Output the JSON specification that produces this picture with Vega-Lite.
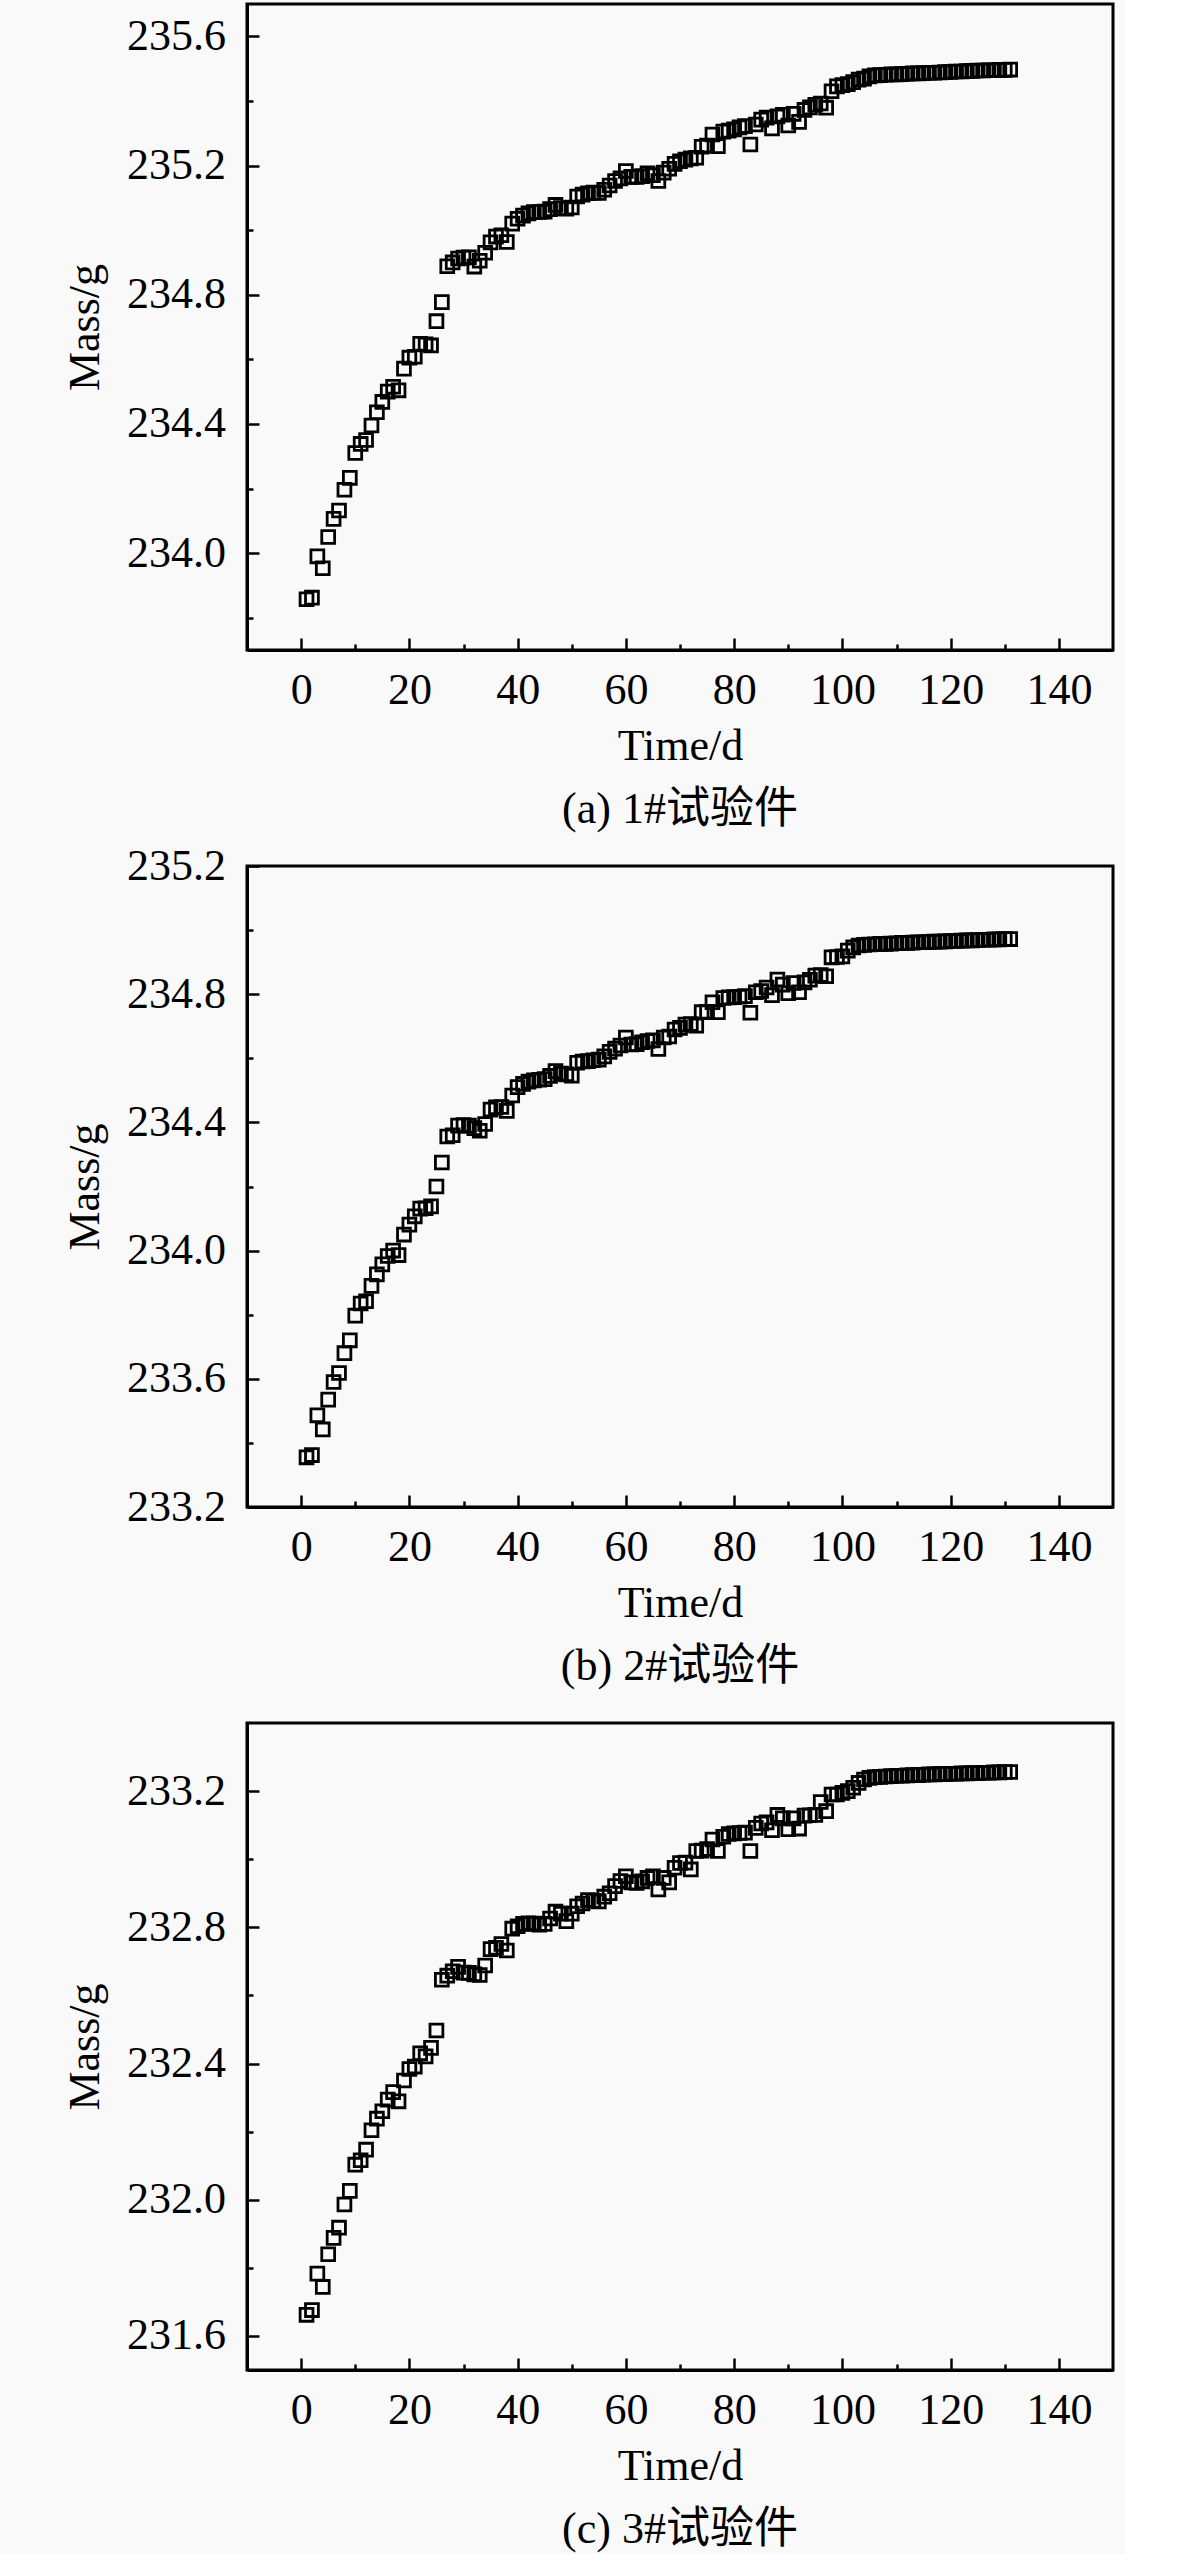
{
  "$schema": "https://vega.github.io/schema/vega-lite/v6.json",
  "background": "#f9f9f9",
  "padding": {"left": 62, "top": 2, "right": 10, "bottom": 5},
  "spacing": 216,
  "bounds": "flush",
  "config": {
    "font": "Liberation Serif",
    "view": {"stroke": "black", "strokeWidth": 3},
    "axis": {
      "grid": false,
      "labelFont": "Liberation Serif",
      "labelFontSize": 44,
      "labelColor": "black",
      "titleFont": "Liberation Serif",
      "titleFontSize": 44,
      "titleFontWeight": "normal",
      "titleColor": "black",
      "domainColor": "black",
      "domainWidth": 3,
      "tickColor": "black",
      "tickWidth": 2.5
    },
    "title": {
      "font": "Liberation Serif, Noto Sans CJK SC",
      "fontSize": 44,
      "fontWeight": "normal",
      "color": "black"
    }
  },
  "datasets": {
    "p1": [
      {"day": 1, "mass": 233.857}, {"day": 2, "mass": 233.862}, {"day": 3, "mass": 233.99}, {"day": 4, "mass": 233.953},
      {"day": 5, "mass": 234.05}, {"day": 6, "mass": 234.106}, {"day": 7, "mass": 234.132}, {"day": 8, "mass": 234.196},
      {"day": 9, "mass": 234.233}, {"day": 10, "mass": 234.31}, {"day": 11, "mass": 234.338}, {"day": 12, "mass": 234.35},
      {"day": 13, "mass": 234.395}, {"day": 14, "mass": 234.436}, {"day": 15, "mass": 234.468}, {"day": 16, "mass": 234.5},
      {"day": 17, "mass": 234.515}, {"day": 18, "mass": 234.504}, {"day": 19, "mass": 234.571}, {"day": 20, "mass": 234.605},
      {"day": 21, "mass": 234.608}, {"day": 22, "mass": 234.648}, {"day": 23, "mass": 234.646}, {"day": 24, "mass": 234.643},
      {"day": 25, "mass": 234.718}, {"day": 26, "mass": 234.777}, {"day": 27, "mass": 234.888}, {"day": 28, "mass": 234.9},
      {"day": 29, "mass": 234.912}, {"day": 30, "mass": 234.915}, {"day": 31, "mass": 234.916}, {"day": 32, "mass": 234.887},
      {"day": 33, "mass": 234.905}, {"day": 34, "mass": 234.93}, {"day": 35, "mass": 234.962}, {"day": 36, "mass": 234.98},
      {"day": 37, "mass": 234.984}, {"day": 38, "mass": 234.963}, {"day": 39, "mass": 235.02}, {"day": 40, "mass": 235.035},
      {"day": 41, "mass": 235.045}, {"day": 42, "mass": 235.052}, {"day": 43, "mass": 235.056}, {"day": 44, "mass": 235.056},
      {"day": 45, "mass": 235.057}, {"day": 46, "mass": 235.065}, {"day": 47, "mass": 235.078}, {"day": 48, "mass": 235.068},
      {"day": 49, "mass": 235.066}, {"day": 50, "mass": 235.07}, {"day": 51, "mass": 235.104}, {"day": 52, "mass": 235.11},
      {"day": 53, "mass": 235.114}, {"day": 54, "mass": 235.116}, {"day": 55, "mass": 235.115}, {"day": 56, "mass": 235.125},
      {"day": 57, "mass": 235.138}, {"day": 58, "mass": 235.152}, {"day": 59, "mass": 235.16}, {"day": 60, "mass": 235.183},
      {"day": 61, "mass": 235.165}, {"day": 62, "mass": 235.165}, {"day": 63, "mass": 235.167}, {"day": 64, "mass": 235.176},
      {"day": 65, "mass": 235.17}, {"day": 66, "mass": 235.152}, {"day": 67, "mass": 235.178}, {"day": 68, "mass": 235.19},
      {"day": 69, "mass": 235.205}, {"day": 70, "mass": 235.213}, {"day": 71, "mass": 235.218}, {"day": 72, "mass": 235.222},
      {"day": 73, "mass": 235.224}, {"day": 74, "mass": 235.258}, {"day": 75, "mass": 235.262}, {"day": 76, "mass": 235.296},
      {"day": 77, "mass": 235.26}, {"day": 78, "mass": 235.305}, {"day": 79, "mass": 235.308}, {"day": 80, "mass": 235.312},
      {"day": 81, "mass": 235.318}, {"day": 82, "mass": 235.322}, {"day": 83, "mass": 235.265}, {"day": 84, "mass": 235.327},
      {"day": 85, "mass": 235.342}, {"day": 86, "mass": 235.348}, {"day": 87, "mass": 235.315}, {"day": 88, "mass": 235.352},
      {"day": 89, "mass": 235.357}, {"day": 90, "mass": 235.324}, {"day": 91, "mass": 235.36}, {"day": 92, "mass": 235.335},
      {"day": 93, "mass": 235.372}, {"day": 94, "mass": 235.38}, {"day": 95, "mass": 235.388}, {"day": 96, "mass": 235.392},
      {"day": 97, "mass": 235.379}, {"day": 98, "mass": 235.43}, {"day": 99, "mass": 235.445}, {"day": 100, "mass": 235.449},
      {"day": 101, "mass": 235.452}, {"day": 102, "mass": 235.458}, {"day": 103, "mass": 235.466}, {"day": 104, "mass": 235.469},
      {"day": 105, "mass": 235.476}, {"day": 106, "mass": 235.479}, {"day": 107, "mass": 235.48}, {"day": 108, "mass": 235.481},
      {"day": 109, "mass": 235.482}, {"day": 110, "mass": 235.482}, {"day": 111, "mass": 235.483}, {"day": 112, "mass": 235.484},
      {"day": 113, "mass": 235.485}, {"day": 114, "mass": 235.485}, {"day": 115, "mass": 235.486}, {"day": 116, "mass": 235.487},
      {"day": 117, "mass": 235.487}, {"day": 118, "mass": 235.488}, {"day": 119, "mass": 235.489}, {"day": 120, "mass": 235.49},
      {"day": 121, "mass": 235.491}, {"day": 122, "mass": 235.491}, {"day": 123, "mass": 235.492}, {"day": 124, "mass": 235.493},
      {"day": 125, "mass": 235.494}, {"day": 126, "mass": 235.494}, {"day": 127, "mass": 235.495}, {"day": 128, "mass": 235.495},
      {"day": 129, "mass": 235.496}, {"day": 130, "mass": 235.496}, {"day": 131, "mass": 235.497}
    ],
    "p2": [
      {"day": 1, "mass": 233.355}, {"day": 2, "mass": 233.362}, {"day": 3, "mass": 233.486}, {"day": 4, "mass": 233.442},
      {"day": 5, "mass": 233.535}, {"day": 6, "mass": 233.59}, {"day": 7, "mass": 233.618}, {"day": 8, "mass": 233.68},
      {"day": 9, "mass": 233.72}, {"day": 10, "mass": 233.797}, {"day": 11, "mass": 233.835}, {"day": 12, "mass": 233.842},
      {"day": 13, "mass": 233.89}, {"day": 14, "mass": 233.926}, {"day": 15, "mass": 233.957}, {"day": 16, "mass": 233.983},
      {"day": 17, "mass": 234.0}, {"day": 18, "mass": 233.986}, {"day": 19, "mass": 234.05}, {"day": 20, "mass": 234.081},
      {"day": 21, "mass": 234.107}, {"day": 22, "mass": 234.131}, {"day": 23, "mass": 234.132}, {"day": 24, "mass": 234.138},
      {"day": 25, "mass": 234.2}, {"day": 26, "mass": 234.275}, {"day": 27, "mass": 234.356}, {"day": 28, "mass": 234.36},
      {"day": 29, "mass": 234.39}, {"day": 30, "mass": 234.392}, {"day": 31, "mass": 234.39}, {"day": 32, "mass": 234.382},
      {"day": 33, "mass": 234.374}, {"day": 34, "mass": 234.395}, {"day": 35, "mass": 234.44}, {"day": 36, "mass": 234.447},
      {"day": 37, "mass": 234.448}, {"day": 38, "mass": 234.436}, {"day": 39, "mass": 234.484}, {"day": 40, "mass": 234.51},
      {"day": 41, "mass": 234.52}, {"day": 42, "mass": 234.527}, {"day": 43, "mass": 234.531}, {"day": 44, "mass": 234.533},
      {"day": 45, "mass": 234.535}, {"day": 46, "mass": 234.545}, {"day": 47, "mass": 234.56}, {"day": 48, "mass": 234.552},
      {"day": 49, "mass": 234.55}, {"day": 50, "mass": 234.546}, {"day": 51, "mass": 234.586}, {"day": 52, "mass": 234.59},
      {"day": 53, "mass": 234.591}, {"day": 54, "mass": 234.594}, {"day": 55, "mass": 234.596}, {"day": 56, "mass": 234.606},
      {"day": 57, "mass": 234.62}, {"day": 58, "mass": 234.63}, {"day": 59, "mass": 234.64}, {"day": 60, "mass": 234.665},
      {"day": 61, "mass": 234.643}, {"day": 62, "mass": 234.644}, {"day": 63, "mass": 234.65}, {"day": 64, "mass": 234.654},
      {"day": 65, "mass": 234.656}, {"day": 66, "mass": 234.629}, {"day": 67, "mass": 234.665}, {"day": 68, "mass": 234.668},
      {"day": 69, "mass": 234.69}, {"day": 70, "mass": 234.695}, {"day": 71, "mass": 234.705}, {"day": 72, "mass": 234.707},
      {"day": 73, "mass": 234.702}, {"day": 74, "mass": 234.744}, {"day": 75, "mass": 234.745}, {"day": 76, "mass": 234.775},
      {"day": 77, "mass": 234.744}, {"day": 78, "mass": 234.788}, {"day": 79, "mass": 234.79}, {"day": 80, "mass": 234.791},
      {"day": 81, "mass": 234.792}, {"day": 82, "mass": 234.794}, {"day": 83, "mass": 234.742}, {"day": 84, "mass": 234.806},
      {"day": 85, "mass": 234.81}, {"day": 86, "mass": 234.821}, {"day": 87, "mass": 234.797}, {"day": 88, "mass": 234.846},
      {"day": 89, "mass": 234.83}, {"day": 90, "mass": 234.803}, {"day": 91, "mass": 234.835}, {"day": 92, "mass": 234.806},
      {"day": 93, "mass": 234.837}, {"day": 94, "mass": 234.845}, {"day": 95, "mass": 234.858}, {"day": 96, "mass": 234.86},
      {"day": 97, "mass": 234.856}, {"day": 98, "mass": 234.915}, {"day": 99, "mass": 234.916}, {"day": 100, "mass": 234.918},
      {"day": 101, "mass": 234.936}, {"day": 102, "mass": 234.946}, {"day": 103, "mass": 234.952}, {"day": 104, "mass": 234.954},
      {"day": 105, "mass": 234.955}, {"day": 106, "mass": 234.956}, {"day": 107, "mass": 234.957}, {"day": 108, "mass": 234.957},
      {"day": 109, "mass": 234.958}, {"day": 110, "mass": 234.959}, {"day": 111, "mass": 234.96}, {"day": 112, "mass": 234.96},
      {"day": 113, "mass": 234.961}, {"day": 114, "mass": 234.962}, {"day": 115, "mass": 234.962}, {"day": 116, "mass": 234.963},
      {"day": 117, "mass": 234.964}, {"day": 118, "mass": 234.964}, {"day": 119, "mass": 234.965}, {"day": 120, "mass": 234.966},
      {"day": 121, "mass": 234.966}, {"day": 122, "mass": 234.967}, {"day": 123, "mass": 234.968}, {"day": 124, "mass": 234.968},
      {"day": 125, "mass": 234.969}, {"day": 126, "mass": 234.97}, {"day": 127, "mass": 234.97}, {"day": 128, "mass": 234.971},
      {"day": 129, "mass": 234.971}, {"day": 130, "mass": 234.972}, {"day": 131, "mass": 234.972}
    ],
    "p3": [
      {"day": 1, "mass": 231.662}, {"day": 2, "mass": 231.676}, {"day": 3, "mass": 231.783}, {"day": 4, "mass": 231.744},
      {"day": 5, "mass": 231.84}, {"day": 6, "mass": 231.888}, {"day": 7, "mass": 231.918}, {"day": 8, "mass": 231.986},
      {"day": 9, "mass": 232.026}, {"day": 10, "mass": 232.103}, {"day": 11, "mass": 232.116}, {"day": 12, "mass": 232.147},
      {"day": 13, "mass": 232.204}, {"day": 14, "mass": 232.238}, {"day": 15, "mass": 232.26}, {"day": 16, "mass": 232.294},
      {"day": 17, "mass": 232.316}, {"day": 18, "mass": 232.289}, {"day": 19, "mass": 232.35}, {"day": 20, "mass": 232.384},
      {"day": 21, "mass": 232.391}, {"day": 22, "mass": 232.43}, {"day": 23, "mass": 232.421}, {"day": 24, "mass": 232.446},
      {"day": 25, "mass": 232.497}, {"day": 26, "mass": 232.646}, {"day": 27, "mass": 232.658}, {"day": 28, "mass": 232.671},
      {"day": 29, "mass": 232.684}, {"day": 30, "mass": 232.667}, {"day": 31, "mass": 232.666}, {"day": 32, "mass": 232.662},
      {"day": 33, "mass": 232.66}, {"day": 34, "mass": 232.688}, {"day": 35, "mass": 232.736}, {"day": 36, "mass": 232.74},
      {"day": 37, "mass": 232.751}, {"day": 38, "mass": 232.732}, {"day": 39, "mass": 232.796}, {"day": 40, "mass": 232.803},
      {"day": 41, "mass": 232.81}, {"day": 42, "mass": 232.812}, {"day": 43, "mass": 232.811}, {"day": 44, "mass": 232.808},
      {"day": 45, "mass": 232.81}, {"day": 46, "mass": 232.826}, {"day": 47, "mass": 232.846}, {"day": 48, "mass": 232.84},
      {"day": 49, "mass": 232.818}, {"day": 50, "mass": 232.84}, {"day": 51, "mass": 232.862}, {"day": 52, "mass": 232.87},
      {"day": 53, "mass": 232.88}, {"day": 54, "mass": 232.878}, {"day": 55, "mass": 232.876}, {"day": 56, "mass": 232.89},
      {"day": 57, "mass": 232.9}, {"day": 58, "mass": 232.921}, {"day": 59, "mass": 232.936}, {"day": 60, "mass": 232.95},
      {"day": 61, "mass": 232.932}, {"day": 62, "mass": 232.93}, {"day": 63, "mass": 232.935}, {"day": 64, "mass": 232.945},
      {"day": 65, "mass": 232.95}, {"day": 66, "mass": 232.911}, {"day": 67, "mass": 232.945}, {"day": 68, "mass": 232.932},
      {"day": 69, "mass": 232.975}, {"day": 70, "mass": 232.989}, {"day": 71, "mass": 232.99}, {"day": 72, "mass": 232.97},
      {"day": 73, "mass": 233.024}, {"day": 74, "mass": 233.025}, {"day": 75, "mass": 233.03}, {"day": 76, "mass": 233.058},
      {"day": 77, "mass": 233.024}, {"day": 78, "mass": 233.066}, {"day": 79, "mass": 233.074}, {"day": 80, "mass": 233.076},
      {"day": 81, "mass": 233.077}, {"day": 82, "mass": 233.078}, {"day": 83, "mass": 233.024}, {"day": 84, "mass": 233.092},
      {"day": 85, "mass": 233.105}, {"day": 86, "mass": 233.108}, {"day": 87, "mass": 233.085}, {"day": 88, "mass": 233.13},
      {"day": 89, "mass": 233.12}, {"day": 90, "mass": 233.088}, {"day": 91, "mass": 233.12}, {"day": 92, "mass": 233.09},
      {"day": 93, "mass": 233.128}, {"day": 94, "mass": 233.129}, {"day": 95, "mass": 233.13}, {"day": 96, "mass": 233.168},
      {"day": 97, "mass": 233.141}, {"day": 98, "mass": 233.19}, {"day": 99, "mass": 233.19}, {"day": 100, "mass": 233.195},
      {"day": 101, "mass": 233.2}, {"day": 102, "mass": 233.21}, {"day": 103, "mass": 233.224}, {"day": 104, "mass": 233.234},
      {"day": 105, "mass": 233.239}, {"day": 106, "mass": 233.241}, {"day": 107, "mass": 233.242}, {"day": 108, "mass": 233.243},
      {"day": 109, "mass": 233.244}, {"day": 110, "mass": 233.245}, {"day": 111, "mass": 233.245}, {"day": 112, "mass": 233.246},
      {"day": 113, "mass": 233.247}, {"day": 114, "mass": 233.247}, {"day": 115, "mass": 233.248}, {"day": 116, "mass": 233.249},
      {"day": 117, "mass": 233.249}, {"day": 118, "mass": 233.25}, {"day": 119, "mass": 233.25}, {"day": 120, "mass": 233.251},
      {"day": 121, "mass": 233.251}, {"day": 122, "mass": 233.252}, {"day": 123, "mass": 233.252}, {"day": 124, "mass": 233.253},
      {"day": 125, "mass": 233.253}, {"day": 126, "mass": 233.254}, {"day": 127, "mass": 233.254}, {"day": 128, "mass": 233.255},
      {"day": 129, "mass": 233.255}, {"day": 130, "mass": 233.256}, {"day": 131, "mass": 233.256}
    ]
  },
  "vconcat": [
    {
      "width": 866,
      "height": 646,
      "data": {"name": "p1"},
      "title": {"text": "(a) 1#试验件", "orient": "bottom", "anchor": "middle", "offset": 20},
      "layer": [
        {
          "mark": {"type": "point", "shape": "square", "filled": false, "color": "black", "size": 165, "strokeWidth": 2.8, "opacity": 1},
          "encoding": {
            "x": {"field": "day", "type": "quantitative", "scale": {"domain": [-10, 150], "nice": false, "zero": false},
              "axis": {"orient": "bottom", "title": "Time/d", "values": [0, 20, 40, 60, 80, 100, 120, 140], "labelFont": "Liberation Serif", "tickSize": -12, "labelPadding": 30, "titlePadding": 12}},
            "y": {"field": "mass", "type": "quantitative", "scale": {"domain": [233.7, 235.7], "nice": false, "zero": false},
              "axis": {"orient": "left", "title": "Mass/g", "values": [234.0, 234.4, 234.8, 235.2, 235.6], "format": ".1f", "labelFont": "Liberation Serif", "tickSize": -12, "labelPadding": 33.5, "titlePadding": 19}}
          }
        },
        {
          "mark": {"type": "point", "opacity": 0},
          "encoding": {
            "x": {"field": "day", "type": "quantitative", "axis": {"orient": "bottom", "title": null, "labels": false, "domain": false, "values": [10, 30, 50, 70, 90, 110, 130], "tickSize": -6}},
            "y": {"field": "mass", "type": "quantitative", "axis": {"orient": "left", "title": null, "labels": false, "domain": false, "values": [233.8, 234.2, 234.6, 235.0, 235.4], "tickSize": -6}}
          }
        }
      ],
      "resolve": {"axis": {"x": "independent", "y": "independent"}}
    },
    {
      "width": 866,
      "height": 641,
      "data": {"name": "p2"},
      "title": {"text": "(b) 2#试验件", "orient": "bottom", "anchor": "middle", "offset": 20},
      "layer": [
        {
          "mark": {"type": "point", "shape": "square", "filled": false, "color": "black", "size": 165, "strokeWidth": 2.8, "opacity": 1},
          "encoding": {
            "x": {"field": "day", "type": "quantitative", "scale": {"domain": [-10, 150], "nice": false, "zero": false},
              "axis": {"orient": "bottom", "title": "Time/d", "values": [0, 20, 40, 60, 80, 100, 120, 140], "labelFont": "Liberation Serif", "tickSize": -12, "labelPadding": 30, "titlePadding": 12}},
            "y": {"field": "mass", "type": "quantitative", "scale": {"domain": [233.2, 235.2], "nice": false, "zero": false},
              "axis": {"orient": "left", "title": "Mass/g", "values": [233.2, 233.6, 234.0, 234.4, 234.8, 235.2], "format": ".1f", "labelFont": "Liberation Serif", "tickSize": -12, "labelPadding": 33.5, "titlePadding": 19}}
          }
        },
        {
          "mark": {"type": "point", "opacity": 0},
          "encoding": {
            "x": {"field": "day", "type": "quantitative", "axis": {"orient": "bottom", "title": null, "labels": false, "domain": false, "values": [10, 30, 50, 70, 90, 110, 130], "tickSize": -6}},
            "y": {"field": "mass", "type": "quantitative", "axis": {"orient": "left", "title": null, "labels": false, "domain": false, "values": [233.4, 233.8, 234.2, 234.6, 235.0], "tickSize": -6}}
          }
        }
      ],
      "resolve": {"axis": {"x": "independent", "y": "independent"}}
    },
    {
      "width": 866,
      "height": 647,
      "data": {"name": "p3"},
      "title": {"text": "(c) 3#试验件", "orient": "bottom", "anchor": "middle", "offset": 20},
      "layer": [
        {
          "mark": {"type": "point", "shape": "square", "filled": false, "color": "black", "size": 165, "strokeWidth": 2.8, "opacity": 1},
          "encoding": {
            "x": {"field": "day", "type": "quantitative", "scale": {"domain": [-10, 150], "nice": false, "zero": false},
              "axis": {"orient": "bottom", "title": "Time/d", "values": [0, 20, 40, 60, 80, 100, 120, 140], "labelFont": "Liberation Serif", "tickSize": -12, "labelPadding": 30, "titlePadding": 12}},
            "y": {"field": "mass", "type": "quantitative", "scale": {"domain": [231.5, 233.4], "nice": false, "zero": false},
              "axis": {"orient": "left", "title": "Mass/g", "values": [231.6, 232.0, 232.4, 232.8, 233.2], "format": ".1f", "labelFont": "Liberation Serif", "tickSize": -12, "labelPadding": 33.5, "titlePadding": 19}}
          }
        },
        {
          "mark": {"type": "point", "opacity": 0},
          "encoding": {
            "x": {"field": "day", "type": "quantitative", "axis": {"orient": "bottom", "title": null, "labels": false, "domain": false, "values": [10, 30, 50, 70, 90, 110, 130], "tickSize": -6}},
            "y": {"field": "mass", "type": "quantitative", "axis": {"orient": "left", "title": null, "labels": false, "domain": false, "values": [231.8, 232.2, 232.6, 233.0], "tickSize": -6}}
          }
        }
      ],
      "resolve": {"axis": {"x": "independent", "y": "independent"}}
    }
  ]
}
